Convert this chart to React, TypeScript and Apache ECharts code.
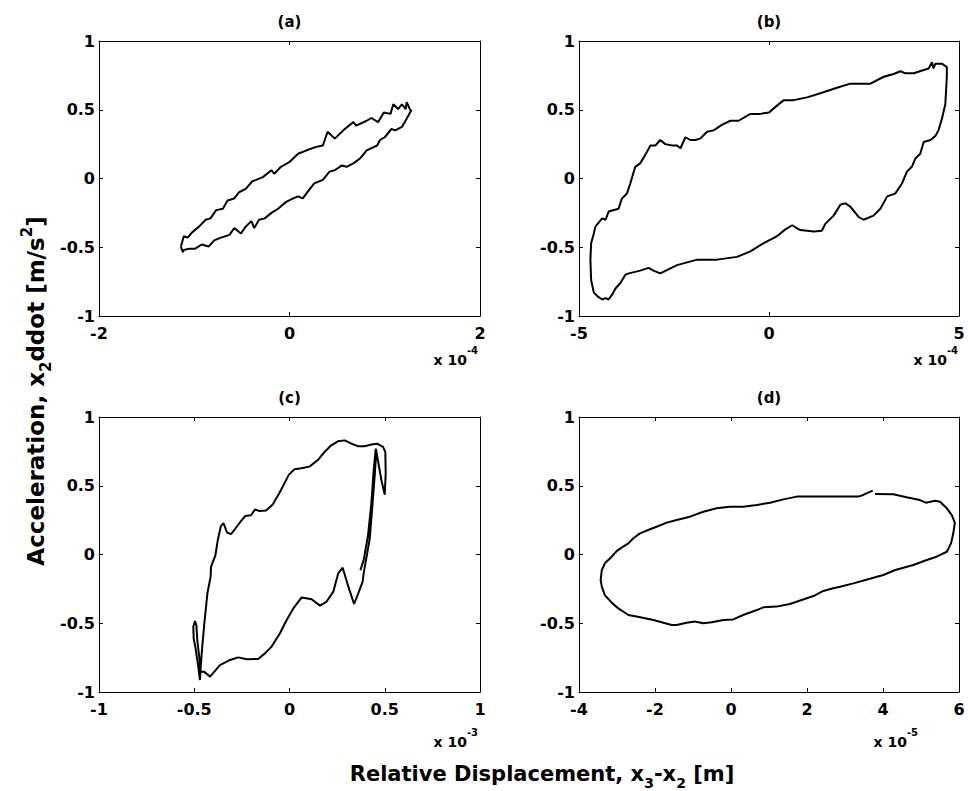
import React, { useEffect, useRef } from "react";
import * as echarts from "echarts";

// x values are in units of the axis exponent (x 10^-4, x 10^-4, x 10^-3, x 10^-5)
const loopA: number[][] = [
  [-1.14, -0.495], [-1.11, -0.42], [-1.07, -0.43], [-1.02, -0.39], [-0.95, -0.35], [-0.88, -0.3],
  [-0.83, -0.29], [-0.77, -0.23], [-0.7, -0.22], [-0.65, -0.16], [-0.58, -0.145], [-0.53, -0.1],
  [-0.46, -0.075], [-0.39, -0.02], [-0.35, -0.01], [-0.28, 0.01], [-0.19, 0.06], [-0.16, 0.035],
  [-0.09, 0.085], [0, 0.12], [0.09, 0.18], [0.18, 0.205], [0.28, 0.23], [0.35, 0.24], [0.4, 0.34],
  [0.475, 0.29], [0.58, 0.36], [0.67, 0.41], [0.7, 0.385], [0.81, 0.42], [0.86, 0.44], [0.93, 0.41],
  [0.99, 0.48], [1.06, 0.47], [1.09, 0.54], [1.14, 0.505], [1.18, 0.54], [1.22, 0.505], [1.23, 0.555],
  [1.27, 0.495], [1.28, 0.5],
  [1.25, 0.46], [1.21, 0.41], [1.18, 0.375], [1.11, 0.35], [1.07, 0.36], [1.0, 0.3], [0.95, 0.28],
  [0.92, 0.24], [0.81, 0.205], [0.74, 0.145], [0.67, 0.11], [0.6, 0.085], [0.55, 0.095], [0.475, 0.06],
  [0.42, 0.05], [0.35, -0.01], [0.26, -0.036], [0.19, -0.097], [0.14, -0.145], [0.09, -0.13],
  [0.04, -0.145], [-0.035, -0.17], [-0.12, -0.22], [-0.19, -0.25], [-0.26, -0.29], [-0.32, -0.3],
  [-0.37, -0.36], [-0.4, -0.31], [-0.46, -0.35], [-0.51, -0.4], [-0.58, -0.36], [-0.63, -0.41],
  [-0.72, -0.43], [-0.79, -0.45], [-0.85, -0.495], [-0.92, -0.48], [-0.99, -0.51], [-1.05, -0.51],
  [-1.11, -0.52], [-1.12, -0.535], [-1.14, -0.495],
];

const loopB: number[][] = [
  [-4.57, -0.35], [-4.39, -0.29], [-4.3, -0.3], [-4.22, -0.24], [-3.96, -0.22], [-3.87, -0.145],
  [-3.74, -0.11], [-3.65, -0.036], [-3.52, 0.085], [-3.39, 0.11], [-3.26, 0.17], [-3.12, 0.24],
  [-2.99, 0.24], [-2.86, 0.28], [-2.73, 0.25], [-2.55, 0.24], [-2.42, 0.24], [-2.33, 0.22],
  [-2.2, 0.3], [-2.07, 0.28], [-1.94, 0.28], [-1.81, 0.29], [-1.63, 0.34], [-1.46, 0.35],
  [-1.24, 0.39], [-1.02, 0.42], [-0.8, 0.42], [-0.49, 0.47], [-0.23, 0.47], [0, 0.48], [0.21, 0.53],
  [0.39, 0.57], [0.65, 0.57], [1.0, 0.59], [1.35, 0.62], [1.79, 0.66], [2.14, 0.69], [2.67, 0.69],
  [3.02, 0.74], [3.28, 0.76], [3.46, 0.78], [3.59, 0.765], [3.81, 0.765], [4.03, 0.785], [4.2, 0.8],
  [4.29, 0.845], [4.33, 0.8], [4.38, 0.835], [4.55, 0.835], [4.68, 0.81],
  [4.68, 0.74], [4.64, 0.54], [4.55, 0.435], [4.46, 0.35], [4.38, 0.31], [4.25, 0.28], [4.07, 0.265],
  [3.98, 0.18], [3.85, 0.145], [3.76, 0.085], [3.63, 0.05], [3.5, -0.036], [3.32, -0.11],
  [3.11, -0.13], [2.93, -0.22], [2.75, -0.27], [2.49, -0.3], [2.36, -0.28], [2.14, -0.205],
  [2.01, -0.18], [1.88, -0.19], [1.7, -0.27], [1.48, -0.33], [1.39, -0.38], [1.18, -0.385],
  [0.82, -0.375], [0.61, -0.34], [0.43, -0.37], [0.21, -0.42], [-0.14, -0.47], [-0.49, -0.53],
  [-0.84, -0.57], [-1.37, -0.59], [-1.89, -0.59], [-2.42, -0.63], [-2.86, -0.69], [-3.04, -0.67],
  [-3.17, -0.65], [-3.39, -0.67], [-3.69, -0.69], [-3.78, -0.7], [-3.91, -0.76], [-4.04, -0.8],
  [-4.13, -0.845], [-4.22, -0.88], [-4.3, -0.87], [-4.39, -0.88], [-4.52, -0.855], [-4.61, -0.83],
  [-4.68, -0.74], [-4.7, -0.59], [-4.68, -0.47], [-4.61, -0.4], [-4.57, -0.35],
];

const loopC: number[][] = [
  [0.372, -0.115], [0.389, -0.043], [0.412, 0.136], [0.43, 0.376], [0.442, 0.615], [0.453, 0.77],
  [0.467, 0.663], [0.482, 0.543], [0.5, 0.435], [0.505, 0.59], [0.503, 0.746], [0.491, 0.782],
  [0.46, 0.806], [0.43, 0.8], [0.395, 0.787], [0.36, 0.787], [0.325, 0.806], [0.29, 0.83],
  [0.254, 0.823], [0.219, 0.794], [0.184, 0.746], [0.149, 0.687], [0.105, 0.639], [0.061, 0.627],
  [0.026, 0.62], [-0.004, 0.579], [-0.026, 0.519], [-0.053, 0.447], [-0.088, 0.364], [-0.123, 0.32],
  [-0.158, 0.316], [-0.181, 0.328], [-0.202, 0.285], [-0.232, 0.28], [-0.254, 0.244], [-0.284, 0.189],
  [-0.307, 0.148], [-0.328, 0.16], [-0.346, 0.227], [-0.36, 0.208], [-0.377, 0.1], [-0.389, -0.007],
  [-0.412, -0.09], [-0.414, -0.161], [-0.431, -0.282], [-0.447, -0.5], [-0.458, -0.67],
  [-0.466, -0.816], [-0.47, -0.913],
  [-0.479, -0.816], [-0.493, -0.682], [-0.503, -0.61], [-0.505, -0.525], [-0.496, -0.484],
  [-0.489, -0.513], [-0.484, -0.622], [-0.473, -0.755], [-0.466, -0.852], [-0.449, -0.852],
  [-0.417, -0.888], [-0.365, -0.804], [-0.312, -0.767], [-0.269, -0.748], [-0.225, -0.762],
  [-0.164, -0.76], [-0.129, -0.719], [-0.094, -0.67], [-0.05, -0.573], [-0.015, -0.476],
  [0.02, -0.392], [0.064, -0.312], [0.116, -0.326], [0.16, -0.372], [0.195, -0.342], [0.23, -0.27],
  [0.256, -0.137], [0.279, -0.096], [0.309, -0.234], [0.339, -0.36], [0.361, -0.282],
  [0.384, -0.198], [0.389, -0.139], [0.421, 0.112], [0.435, 0.352], [0.447, 0.567], [0.456, 0.758],
];

const loopD: number[][] = [
  [3.79, 0.44], [4.27, 0.438], [4.62, 0.416], [4.97, 0.396], [5.13, 0.377], [5.37, 0.391],
  [5.5, 0.384], [5.68, 0.336], [5.81, 0.287], [5.89, 0.231], [5.85, 0.154], [5.79, 0.081],
  [5.68, 0.02], [5.41, -0.016], [5.15, -0.04], [4.8, -0.076], [4.32, -0.113], [4.01, -0.149],
  [3.7, -0.173], [3.22, -0.21], [2.87, -0.234], [2.69, -0.246], [2.43, -0.265], [2.17, -0.302],
  [1.86, -0.331], [1.55, -0.36], [1.2, -0.379], [0.85, -0.384], [0.68, -0.404], [0.32, -0.44],
  [0.06, -0.472], [-0.2, -0.476], [-0.51, -0.493], [-0.73, -0.5], [-0.95, -0.488], [-1.17, -0.496],
  [-1.43, -0.513], [-1.56, -0.513], [-1.78, -0.496], [-2.04, -0.476], [-2.39, -0.457], [-2.7, -0.44],
  [-2.965, -0.392], [-3.14, -0.35], [-3.32, -0.295], [-3.4, -0.234], [-3.43, -0.185], [-3.4, -0.113],
  [-3.32, -0.064], [-3.18, -0.028], [-3.01, 0.025], [-2.88, 0.05], [-2.7, 0.081], [-2.57, 0.118],
  [-2.395, 0.154], [-2.18, 0.178], [-1.96, 0.202], [-1.69, 0.232], [-1.43, 0.251], [-1.08, 0.275],
  [-0.73, 0.311], [-0.38, 0.336], [-0.03, 0.348], [0.32, 0.348], [0.68, 0.36], [1.03, 0.377],
  [1.38, 0.401], [1.73, 0.421], [2.17, 0.421], [2.61, 0.421], [3.04, 0.421], [3.35, 0.421],
  [3.48, 0.433], [3.61, 0.45], [3.73, 0.464],
];

const panelTitles = ["(a)", "(b)", "(c)", "(d)"];
const xMins = [-2, -5, -1, -4];
const xMaxs = [2, 5, 1, 6];
const xSteps = [2, 5, 0.5, 2];
const xExponents = ["-4", "-4", "-3", "-5"];
const yMin = -1;
const yMax = 1;
const yStep = 0.5;
const xAxisTitle = ["Relative Displacement, x", "3", "-x", "2", " [m]"];
const yAxisTitle = ["Acceleration, x", "2", "ddot [m/s", "2", "]"];

const FONT = "DejaVu Sans";

export default function App() {
  const ref = useRef<HTMLDivElement>(null);
  useEffect(() => {
    if (!ref.current) return;
    const chart = echarts.init(ref.current, undefined, { renderer: "svg" });
    const loops = [loopA, loopB, loopC, loopD];
    const boxes = [
      { left: 99, top: 41, width: 381, height: 275 },
      { left: 579, top: 41, width: 380, height: 275 },
      { left: 99, top: 417, width: 381, height: 275 },
      { left: 579, top: 417, width: 380, height: 275 },
    ];
    const expPos = [
      { x: 478, y: 356 },
      { x: 958, y: 356 },
      { x: 478, y: 738 },
      { x: 918, y: 738 },
    ];
    const lineStyle = { color: "#000", width: 1 };
    const label = { fontFamily: FONT, fontWeight: "bold" as const, fontSize: 16, color: "#000" };
    const xAxes: any[] = [];
    const yAxes: any[] = [];
    const series: any[] = [];
    const graphics: any[] = [];
    boxes.forEach((b, i) => {
      const common = {
        gridIndex: i,
        type: "value",
        splitLine: { show: false },
        axisLine: { show: true, onZero: false, lineStyle },
        axisTick: { show: true, inside: true, length: 4, lineStyle },
      };
      xAxes.push({
        ...common,
        position: "bottom",
        min: xMins[i],
        max: xMaxs[i],
        interval: xSteps[i],
        axisLabel: { ...label, margin: 9, showMinLabel: true, showMaxLabel: true },
      });
      xAxes.push({
        ...common,
        position: "top",
        min: xMins[i],
        max: xMaxs[i],
        interval: xSteps[i],
        axisLabel: { show: false },
      });
      yAxes.push({
        ...common,
        position: "left",
        min: yMin,
        max: yMax,
        interval: yStep,
        axisLabel: { ...label, margin: 4, showMinLabel: true, showMaxLabel: true },
      });
      yAxes.push({
        ...common,
        position: "right",
        min: yMin,
        max: yMax,
        interval: yStep,
        axisLabel: { show: false },
      });
      series.push({
        type: "line",
        xAxisIndex: 2 * i,
        yAxisIndex: 2 * i,
        data: loops[i],
        showSymbol: false,
        symbol: "none",
        smooth: false,
        lineStyle: { color: "#000", width: 2 },
      });
      graphics.push({
        type: "text",
        x: b.left + b.width / 2,
        y: b.top - 19,
        style: {
          text: panelTitles[i],
          fill: "#000",
          font: `bold 15px "${FONT}"`,
          align: "center",
          verticalAlign: "middle",
        },
      });
      graphics.push({
        type: "text",
        x: expPos[i].x,
        y: expPos[i].y,
        style: {
          text: `{m|x 10}{s|${xExponents[i]}}`,
          align: "right",
          verticalAlign: "middle",
          rich: {
            m: { fontFamily: FONT, fontSize: 14, fontWeight: "bold", fill: "#000", lineHeight: 22, verticalAlign: "bottom" },
            s: { fontFamily: FONT, fontSize: 10, fontWeight: "bold", fill: "#000", lineHeight: 11, verticalAlign: "top" },
          },
        },
      });
    });
    const xRich = {
      m: { fontFamily: FONT, fontSize: 21, fontWeight: "bold", fill: "#000", lineHeight: 32, verticalAlign: "middle" },
      sub: { fontFamily: FONT, fontSize: 14, fontWeight: "bold", fill: "#000", lineHeight: 14, verticalAlign: "bottom" },
      sup: { fontFamily: FONT, fontSize: 14, fontWeight: "bold", fill: "#000", lineHeight: 14, verticalAlign: "top" },
    };
    const yRich = {
      m: { fontFamily: FONT, fontSize: 23, fontWeight: "bold", fill: "#000", lineHeight: 34, verticalAlign: "middle" },
      sub: { fontFamily: FONT, fontSize: 15, fontWeight: "bold", fill: "#000", lineHeight: 15, verticalAlign: "bottom" },
      sup: { fontFamily: FONT, fontSize: 15, fontWeight: "bold", fill: "#000", lineHeight: 15, verticalAlign: "top" },
    };
    graphics.push({
      type: "text",
      x: 542,
      y: 774,
      style: {
        text: `{m|${xAxisTitle[0]}}{sub|${xAxisTitle[1]}}{m|${xAxisTitle[2]}}{sub|${xAxisTitle[3]}}{m|${xAxisTitle[4]}}`,
        align: "center",
        verticalAlign: "middle",
        rich: xRich,
      },
    });
    graphics.push({
      type: "text",
      x: 36,
      y: 391,
      rotation: Math.PI / 2,
      style: {
        text: `{m|${yAxisTitle[0]}}{sub|${yAxisTitle[1]}}{m|${yAxisTitle[2]}}{sup|${yAxisTitle[3]}}{m|${yAxisTitle[4]}}`,
        align: "center",
        verticalAlign: "middle",
        rich: yRich,
      },
    });
    chart.setOption({
      animation: false,
      backgroundColor: "#fff",
      grid: boxes.map((b) => ({ ...b, show: false, containLabel: false })),
      xAxis: xAxes,
      yAxis: yAxes,
      series,
      graphic: graphics,
    });
    return () => chart.dispose();
  }, []);
  return (
    <div
      ref={ref}
      style={{ position: "fixed", left: 0, top: 0, width: 968, height: 791, background: "#fff" }}
    />
  );
}
